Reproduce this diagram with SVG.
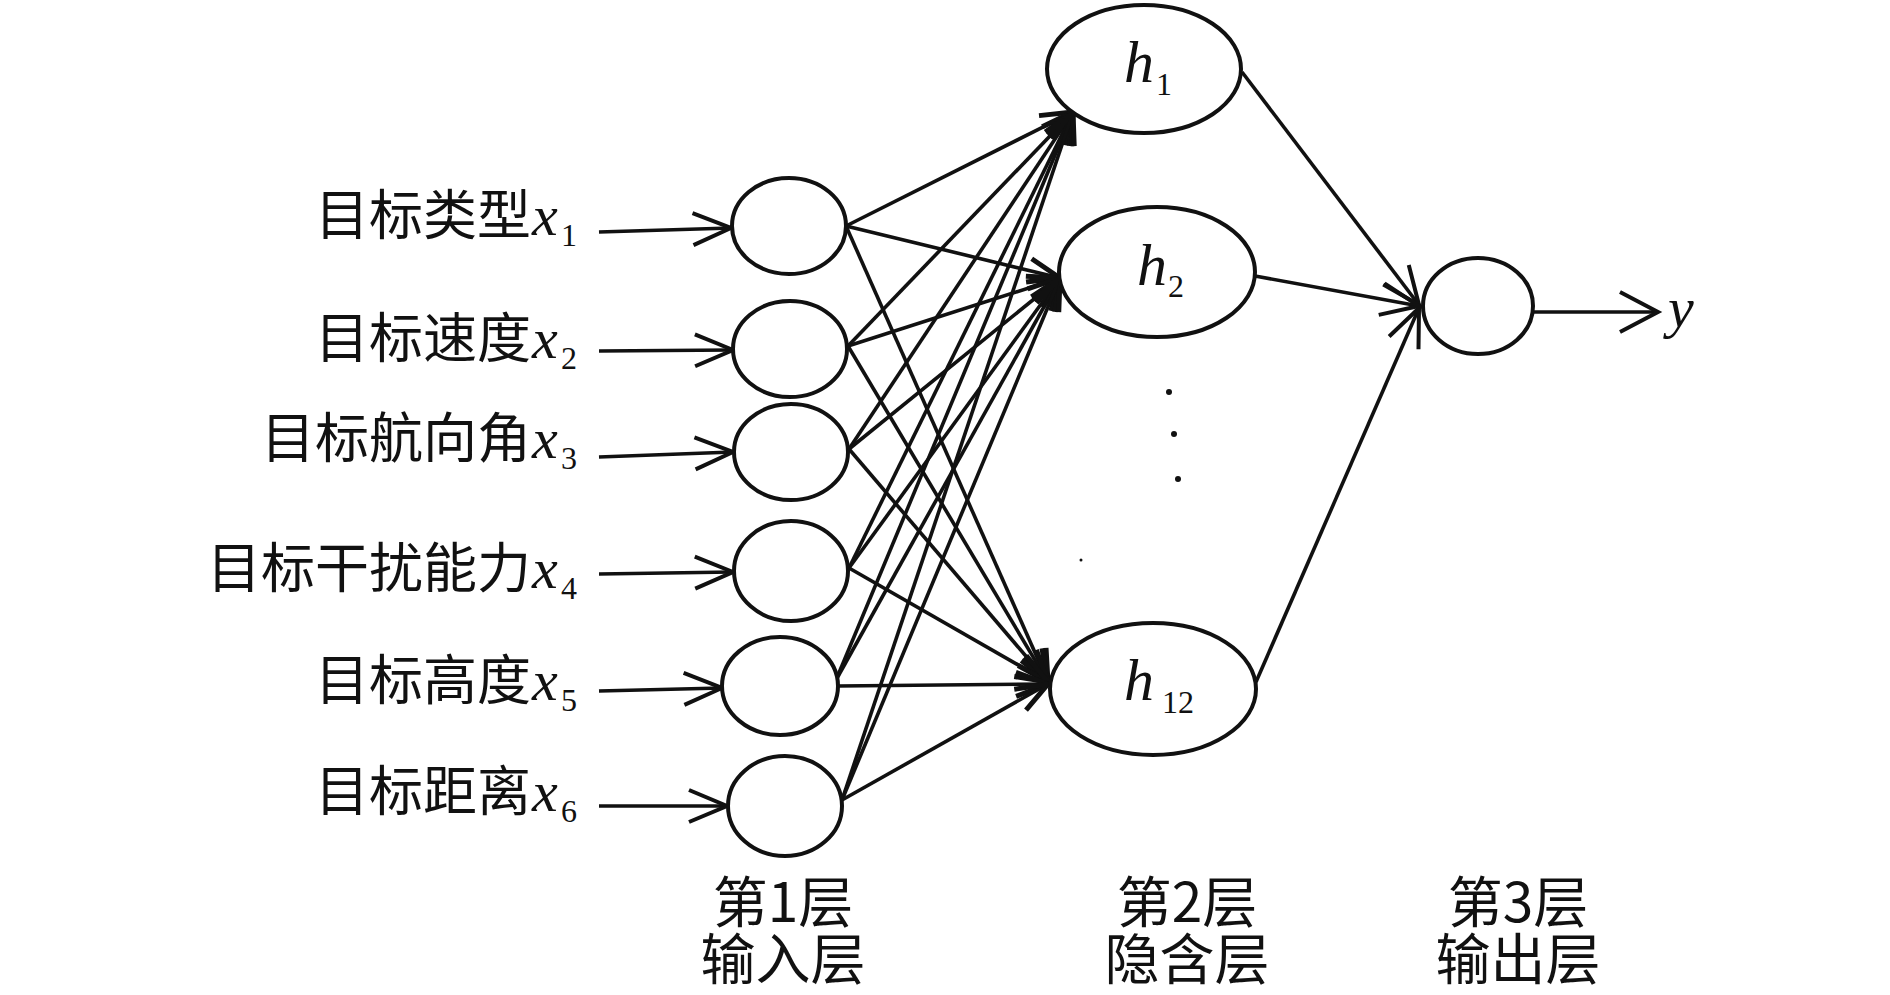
<svg xmlns="http://www.w3.org/2000/svg" width="1890" height="995" viewBox="0 0 1890 995">
<style>
.node{fill:#fff;stroke:#111;stroke-width:4}
.c{stroke:#111;stroke-width:3.6;fill:none}
.cj{font-family:"Noto Sans CJK SC","Noto Sans CJK TC",sans-serif;fill:#111}
.lab{font-size:54px}
.bot{font-size:55px}
.it{font-family:"Liberation Serif",serif;font-style:italic;fill:#111}
.sub{font-family:"Liberation Serif",serif;fill:#111}
</style>
<defs>
<marker id="arr" markerUnits="userSpaceOnUse" markerWidth="50" markerHeight="50" viewBox="-45 -25 50 50" refX="0" refY="0" orient="auto" overflow="visible">
<path d="M-38,-16 L0,0 L-38,16" fill="none" stroke="#111" stroke-width="4"/>
</marker>
<marker id="arrh" markerUnits="userSpaceOnUse" markerWidth="50" markerHeight="50" viewBox="-45 -25 50 50" refX="0" refY="0" orient="auto" overflow="visible">
<path d="M-32,-12 L0,0 L-32,12" fill="none" stroke="#111" stroke-width="5"/>
</marker>
<marker id="arry" markerUnits="userSpaceOnUse" markerWidth="50" markerHeight="50" viewBox="-45 -25 50 50" refX="0" refY="0" orient="auto" overflow="visible">
<path d="M-38,-20 L0,0 L-38,20" fill="none" stroke="#111" stroke-width="4"/>
</marker>
</defs>
<rect width="1890" height="995" fill="#fff"/>

<g id="connectors">
<line class="c" x1="599" y1="232" x2="731" y2="228" marker-end="url(#arr)"/>
<line class="c" x1="599" y1="351" x2="733" y2="350" marker-end="url(#arr)"/>
<line class="c" x1="599" y1="457" x2="733" y2="452" marker-end="url(#arr)"/>
<line class="c" x1="599" y1="574" x2="733" y2="572" marker-end="url(#arr)"/>
<line class="c" x1="599" y1="691" x2="722" y2="688" marker-end="url(#arr)"/>
<line class="c" x1="599" y1="806" x2="727" y2="806" marker-end="url(#arr)"/>
<g marker-end="url(#arrh)">
<line class="c" x1="846" y1="226" x2="1073" y2="112"/>
<line class="c" x1="846" y1="226" x2="1060" y2="278"/>
<line class="c" x1="846" y1="226" x2="1048" y2="682"/>
<line class="c" x1="848" y1="346" x2="1073" y2="112"/>
<line class="c" x1="848" y1="346" x2="1060" y2="278"/>
<line class="c" x1="848" y1="346" x2="1048" y2="682"/>
<line class="c" x1="849" y1="449" x2="1073" y2="112"/>
<line class="c" x1="849" y1="449" x2="1060" y2="278"/>
<line class="c" x1="849" y1="449" x2="1048" y2="682"/>
<line class="c" x1="849" y1="568" x2="1073" y2="112"/>
<line class="c" x1="849" y1="568" x2="1060" y2="278"/>
<line class="c" x1="849" y1="568" x2="1048" y2="682"/>
<line class="c" x1="836" y1="680" x2="1073" y2="112"/>
<line class="c" x1="836" y1="680" x2="1060" y2="278"/>
<line class="c" x1="838" y1="686" x2="1048" y2="684"/>
<line class="c" x1="842" y1="800" x2="1073" y2="112"/>
<line class="c" x1="842" y1="800" x2="1060" y2="278"/>
<line class="c" x1="842" y1="800" x2="1048" y2="684"/>
</g>
<line class="c" x1="1242" y1="72" x2="1419" y2="305" marker-end="url(#arr)"/>
<line class="c" x1="1255" y1="276" x2="1419" y2="306" marker-end="url(#arr)"/>
<line class="c" x1="1256" y1="682" x2="1419" y2="308" marker-end="url(#arr)"/>
<line class="c" x1="1533" y1="312" x2="1658" y2="312" marker-end="url(#arry)"/>
</g>

<g id="in1"><ellipse class="node" cx="789" cy="226" rx="57" ry="48"/></g>
<g id="in2"><ellipse class="node" cx="790" cy="349" rx="57" ry="48"/></g>
<g id="in3"><ellipse class="node" cx="791" cy="452" rx="57" ry="48"/></g>
<g id="in4"><ellipse class="node" cx="791" cy="571" rx="57" ry="50"/></g>
<g id="in5"><ellipse class="node" cx="780" cy="686" rx="58" ry="49"/></g>
<g id="in6"><ellipse class="node" cx="785" cy="806" rx="57" ry="50"/></g>

<g id="h1"><ellipse class="node" cx="1144" cy="69" rx="97" ry="64"/>
<text class="it" x="1124" y="82" font-size="60">h</text><text class="sub" x="1156" y="95" font-size="32">1</text></g>
<g id="h2"><ellipse class="node" cx="1157" cy="272" rx="98" ry="65"/>
<text class="it" x="1137" y="285" font-size="60">h</text><text class="sub" x="1168" y="297" font-size="32">2</text></g>
<g id="h12"><ellipse class="node" cx="1153" cy="689" rx="103" ry="66"/>
<text class="it" x="1124" y="700" font-size="60">h</text><text class="sub" x="1162" y="713" font-size="32">12</text></g>
<g id="dots" fill="#111"><circle cx="1169" cy="392" r="3"/><circle cx="1174" cy="434" r="3"/><circle cx="1178" cy="479" r="3"/><circle cx="1081" cy="560" r="1.5"/></g>

<g id="out"><ellipse class="node" cx="1478" cy="306" rx="55" ry="48"/></g>
<g id="ylabel"><text class="it" x="1668" y="327" font-size="58">y</text></g>

<g id="labels">
<text class="cj lab" x="531" y="235" text-anchor="end">目标类型</text><text class="it" x="532" y="235" font-size="58">x</text><text class="sub" x="561" y="246" font-size="32">1</text>
<text class="cj lab" x="531" y="358" text-anchor="end">目标速度</text><text class="it" x="532" y="358" font-size="58">x</text><text class="sub" x="561" y="369" font-size="32">2</text>
<text class="cj lab" x="531" y="458" text-anchor="end">目标航向角</text><text class="it" x="532" y="458" font-size="58">x</text><text class="sub" x="561" y="469" font-size="32">3</text>
<text class="cj lab" x="531" y="588" text-anchor="end">目标干扰能力</text><text class="it" x="532" y="588" font-size="58">x</text><text class="sub" x="561" y="599" font-size="32">4</text>
<text class="cj lab" x="531" y="700" text-anchor="end">目标高度</text><text class="it" x="532" y="700" font-size="58">x</text><text class="sub" x="561" y="711" font-size="32">5</text>
<text class="cj lab" x="531" y="811" text-anchor="end">目标距离</text><text class="it" x="532" y="811" font-size="58">x</text><text class="sub" x="561" y="822" font-size="32">6</text>
</g>

<g id="layer1" class="cj bot" text-anchor="middle"><text x="783" y="922">第1层</text><text x="783" y="979">输入层</text></g>
<g id="layer2" class="cj bot" text-anchor="middle"><text x="1187" y="922">第2层</text><text x="1187" y="979">隐含层</text></g>
<g id="layer3" class="cj bot" text-anchor="middle"><text x="1518" y="922">第3层</text><text x="1518" y="979">输出层</text></g>
</svg>
